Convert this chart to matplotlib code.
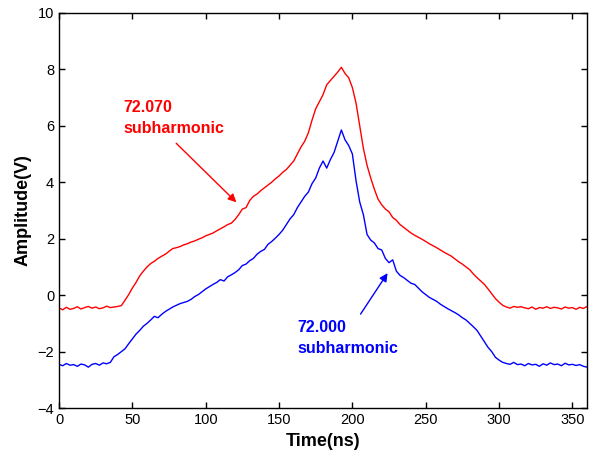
import numpy as np
import matplotlib
matplotlib.use("Agg")
import matplotlib.pyplot as plt

plt.rcParams['font.family'] = ['Liberation Sans', 'DejaVu Sans']

# sample times (ns), 2.5 ns step
time_ns = np.arange(0, 360.1, 2.5)

# 72.070 subharmonic trace (V)
amp_72070 = [
    -0.45, -0.52, -0.43, -0.50, -0.47, -0.41, -0.49, -0.44, -0.40, -0.46,
    -0.42, -0.48, -0.45, -0.39, -0.44, -0.42, -0.40, -0.37,
    -0.18, 0.02, 0.25, 0.45, 0.68, 0.85, 1.00, 1.12, 1.20, 1.30,
    1.38, 1.45, 1.55, 1.65, 1.68, 1.72, 1.78, 1.82, 1.88, 1.92,
    1.98, 2.03, 2.10, 2.15, 2.20, 2.28, 2.35, 2.42, 2.50, 2.55,
    2.68, 2.85, 3.05, 3.10, 3.35, 3.50, 3.58, 3.70, 3.80, 3.90,
    4.00, 4.12, 4.22, 4.35, 4.45, 4.60, 4.75, 5.00, 5.25, 5.45,
    5.75, 6.20, 6.60, 6.85, 7.10, 7.45, 7.60, 7.75, 7.90, 8.07,
    7.85, 7.70, 7.35, 6.80, 6.00, 5.20, 4.60, 4.15, 3.75, 3.40,
    3.20, 3.05, 2.95, 2.75, 2.65, 2.50, 2.40, 2.30, 2.20, 2.12,
    2.05, 1.98, 1.90, 1.82, 1.75, 1.68, 1.60, 1.52, 1.45, 1.38,
    1.28, 1.18, 1.10, 1.00, 0.90, 0.75, 0.62, 0.50, 0.38, 0.22,
    0.05, -0.12, -0.25, -0.36, -0.42, -0.46, -0.40, -0.43,
    -0.41, -0.45, -0.48, -0.42, -0.50, -0.44, -0.46, -0.41, -0.47, -0.43,
    -0.45, -0.49, -0.42, -0.46, -0.44, -0.50, -0.43, -0.47, -0.40,
]

# 72.000 subharmonic trace (V)
amp_72000 = [
    -2.45, -2.50, -2.42, -2.48, -2.46, -2.52, -2.44, -2.47, -2.55, -2.45,
    -2.42, -2.48, -2.40, -2.43,
    -2.38, -2.18, -2.10, -2.00, -1.90, -1.72, -1.55, -1.38, -1.25, -1.10,
    -1.00, -0.88, -0.75, -0.80, -0.68, -0.58, -0.50, -0.42, -0.36, -0.30,
    -0.26, -0.22, -0.15, -0.05, 0.02, 0.12, 0.22, 0.30, 0.38, 0.45,
    0.55, 0.50, 0.65, 0.72, 0.80, 0.90, 1.05, 1.10, 1.22, 1.30,
    1.45, 1.55, 1.62, 1.80, 1.90, 2.02, 2.15, 2.30, 2.50, 2.70,
    2.85, 3.10, 3.30, 3.50, 3.65, 3.95, 4.15, 4.50, 4.75, 4.50,
    4.80, 5.05, 5.45, 5.85, 5.50, 5.30, 5.00, 4.05, 3.30, 2.85,
    2.15, 1.95, 1.85, 1.65, 1.60, 1.30, 1.15, 1.25, 0.85, 0.70,
    0.62, 0.52, 0.42, 0.38, 0.25, 0.12, 0.02, -0.08, -0.15, -0.22,
    -0.32, -0.40, -0.48, -0.55, -0.62, -0.70, -0.80, -0.88, -1.00, -1.12,
    -1.25, -1.45, -1.65, -1.85, -2.00, -2.20, -2.30, -2.38, -2.42, -2.45,
    -2.38, -2.46,
    -2.44, -2.50, -2.42, -2.47, -2.45, -2.52, -2.43, -2.48, -2.40, -2.46,
    -2.44, -2.50, -2.41, -2.47, -2.45, -2.49, -2.46, -2.52, -2.55,
]

fig = plt.figure(figsize=(5.93, 4.57), dpi=100)
ax = fig.add_axes([0.0995, 0.107, 0.8905, 0.865])

ax.plot(time_ns, amp_72070, color='#ff0000', lw=1.0)
ax.plot(time_ns, amp_72000, color='#0000ff', lw=1.0)

ax.set_xlim(0, 360)
ax.set_ylim(-4, 10)
ax.set_xticks([0, 50, 100, 150, 200, 250, 300, 350])
ax.set_yticks([-4, -2, 0, 2, 4, 6, 8, 10])
ax.tick_params(direction='in', top=True, right=True, length=4, width=1,
               labelsize=10.5)
for s in ax.spines.values():
    s.set_linewidth(1.0)

ax.set_xlabel('Time(ns)', fontsize=13, fontweight='bold', labelpad=4)
ax.set_ylabel('Amplitude(V)', fontsize=13, fontweight='bold', labelpad=4)

# labels and pointer arrows for each trace
ax.text(43.7, 6.28, '72.070\nsubharmonic', color='#ff0000', fontsize=11.5,
        fontweight='bold', ha='left', va='center', linespacing=1.55)
ax.annotate('', xy=(120.9, 3.29), xytext=(79.9, 5.38),
            arrowprops=dict(arrowstyle='-|>', color='#ff0000', lw=1,
                            mutation_scale=12, shrinkA=0, shrinkB=0))

ax.text(162.6, -1.52, '72.000\nsubharmonic', color='#0000ff', fontsize=11.5,
        fontweight='bold', ha='left', va='center', linespacing=1.55)
ax.annotate('', xy=(224, 0.78), xytext=(205.6, -0.67),
            arrowprops=dict(arrowstyle='-|>', color='#0000ff', lw=1,
                            mutation_scale=12, shrinkA=0, shrinkB=0))

fig.savefig('out.png', dpi=100)
